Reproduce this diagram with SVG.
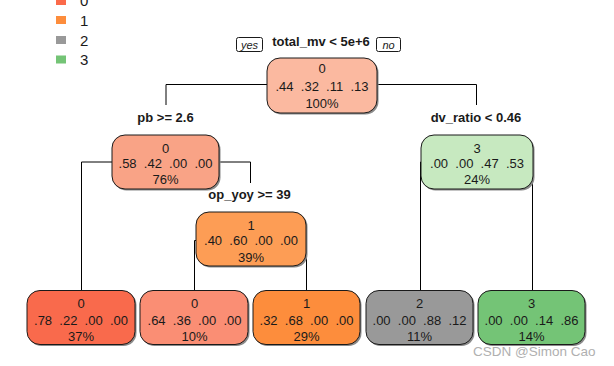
<svg xmlns="http://www.w3.org/2000/svg" width="614" height="366" viewBox="0 0 614 366">
<style>
.bg{fill:#ffffff}
.node rect.box{stroke:#1a1a1a;stroke-width:1}
.node rect.sh{fill:#8a8a8a}
.nt{font-family:"Liberation Sans",Arial,sans-serif;font-size:13px;fill:#1a1a1a;text-anchor:middle}
.lbl{font-family:"Liberation Sans",Arial,sans-serif;font-size:13px;font-weight:bold;fill:#1a1a1a;text-anchor:middle}
.yn{font-family:"Liberation Sans",Arial,sans-serif;font-size:11px;font-style:italic;fill:#1a1a1a;text-anchor:middle}
.ynb{fill:#ffffff;stroke:#1a1a1a;stroke-width:1}
.leg{font-family:"Liberation Sans",Arial,sans-serif;font-size:15px;fill:#1a1a1a}
.conn path{fill:none;stroke:#000;stroke-width:1}
.wm{font-family:"Liberation Sans",Arial,sans-serif;font-size:13.5px;fill:#b0b0b0}
</style>
<rect class="bg" x="0" y="0" width="614" height="366"/>

<g id="legend">
  <rect x="56" y="-4" width="10" height="9" fill="#FB6A4A"/>
  <text class="leg" x="80" y="6">0</text>
  <rect x="56" y="16" width="10" height="8" fill="#FD8D3C"/>
  <text class="leg" x="80" y="25.5">1</text>
  <rect x="56" y="36" width="10" height="8" fill="#999999"/>
  <text class="leg" x="80" y="45.5">2</text>
  <rect x="56" y="55.5" width="10" height="8" fill="#74C476"/>
  <text class="leg" x="80" y="65">3</text>
</g>

<g class="conn" id="connectors">
  <path d="M267,84.5 H166 V105"/>
  <path d="M377,84.5 H476.5 V105"/>
  <path d="M112,162 H81.5 V291"/>
  <path d="M219,162 H250.5 V183"/>
  <path d="M196,240.5 H194.5 V291"/>
  <path d="M306,240.5 H306.5 V291"/>
  <path d="M421,162 H420.5 V291"/>
  <path d="M533,162 H532.5 V291"/>
</g>

<g id="split-labels">
  <rect class="ynb" x="236.5" y="37.5" width="26" height="14" rx="2"/>
  <text class="yn" x="249.5" y="48.5">yes</text>
  <text class="lbl" x="321" y="46">total_mv &lt; 5e+6</text>
  <rect class="ynb" x="376.5" y="37.5" width="24" height="14" rx="2"/>
  <text class="yn" x="388.5" y="48.5">no</text>
  <text class="lbl" x="165.5" y="122">pb &gt;= 2.6</text>
  <text class="lbl" x="476" y="122">dv_ratio &lt; 0.46</text>
  <text class="lbl" x="249.5" y="199">op_yoy &gt;= 39</text>
</g>

<g class="node" id="node-root">
  <rect class="sh" x="268.5" y="59.5" width="110" height="55" rx="13"/>
  <rect class="box" x="267" y="58" width="110" height="55" rx="13" fill="#FBB9A0"/>
  <text class="nt" x="322" y="72.7">0</text>
  <text class="nt" x="322" y="90.7" xml:space="preserve">.44  .32  .11  .13</text>
  <text class="nt" x="322" y="107.7">100%</text>
</g>

<g class="node" id="node-pb">
  <rect class="sh" x="113.5" y="136.5" width="107" height="54" rx="13"/>
  <rect class="box" x="112" y="135" width="107" height="54" rx="13" fill="#F9A386"/>
  <text class="nt" x="165.5" y="152.5">0</text>
  <text class="nt" x="165.5" y="168" xml:space="preserve">.58  .42  .00  .00</text>
  <text class="nt" x="165.5" y="184">76%</text>
</g>

<g class="node" id="node-dv">
  <rect class="sh" x="422.5" y="136.5" width="112" height="54" rx="13"/>
  <rect class="box" x="421" y="135" width="112" height="54" rx="13" fill="#C7E9C0"/>
  <text class="nt" x="477" y="152.5">3</text>
  <text class="nt" x="477" y="168" xml:space="preserve">.00  .00  .47  .53</text>
  <text class="nt" x="477" y="184">24%</text>
</g>

<g class="node" id="node-opyoy">
  <rect class="sh" x="197.5" y="213.5" width="110" height="54" rx="13"/>
  <rect class="box" x="196" y="212" width="110" height="54" rx="13" fill="#FD9D55"/>
  <text class="nt" x="251" y="229.7">1</text>
  <text class="nt" x="251" y="245.4" xml:space="preserve">.40  .60  .00  .00</text>
  <text class="nt" x="251" y="262">39%</text>
</g>

<g class="node" id="leaf-1">
  <rect class="sh" x="28.5" y="292" width="108" height="54" rx="13"/>
  <rect class="box" x="27" y="290.5" width="108" height="54" rx="13" fill="#F96A4C"/>
  <text class="nt" x="81" y="307.7">0</text>
  <text class="nt" x="81" y="324.7" xml:space="preserve">.78  .22  .00  .00</text>
  <text class="nt" x="81" y="340.5">37%</text>
</g>

<g class="node" id="leaf-2">
  <rect class="sh" x="141.5" y="292" width="108" height="54" rx="13"/>
  <rect class="box" x="140" y="290.5" width="108" height="54" rx="13" fill="#FA8E74"/>
  <text class="nt" x="194.5" y="307.7">0</text>
  <text class="nt" x="194.5" y="324.7" xml:space="preserve">.64  .36  .00  .00</text>
  <text class="nt" x="194.5" y="340.5">10%</text>
</g>

<g class="node" id="leaf-3">
  <rect class="sh" x="254.5" y="292" width="107" height="54" rx="13"/>
  <rect class="box" x="253" y="290.5" width="107" height="54" rx="13" fill="#FD8D3C"/>
  <text class="nt" x="306.5" y="307.7">1</text>
  <text class="nt" x="306.5" y="324.7" xml:space="preserve">.32  .68  .00  .00</text>
  <text class="nt" x="306.5" y="340.5">29%</text>
</g>

<g class="node" id="leaf-4">
  <rect class="sh" x="367.5" y="292" width="107" height="54" rx="13"/>
  <rect class="box" x="366" y="290.5" width="107" height="54" rx="13" fill="#999999"/>
  <text class="nt" x="419.5" y="307.7">2</text>
  <text class="nt" x="419.5" y="324.7" xml:space="preserve">.00  .00  .88  .12</text>
  <text class="nt" x="419.5" y="340.5">11%</text>
</g>

<g class="node" id="leaf-5">
  <rect class="sh" x="479.5" y="292" width="107" height="54" rx="13"/>
  <rect class="box" x="478" y="290.5" width="107" height="54" rx="13" fill="#74C476"/>
  <text class="nt" x="531.5" y="307.7">3</text>
  <text class="nt" x="531.5" y="324.7" xml:space="preserve">.00  .00  .14  .86</text>
  <text class="nt" x="531.5" y="340.5">14%</text>
</g>

<text class="wm" x="473" y="356">CSDN @Simon Cao</text>
</svg>
